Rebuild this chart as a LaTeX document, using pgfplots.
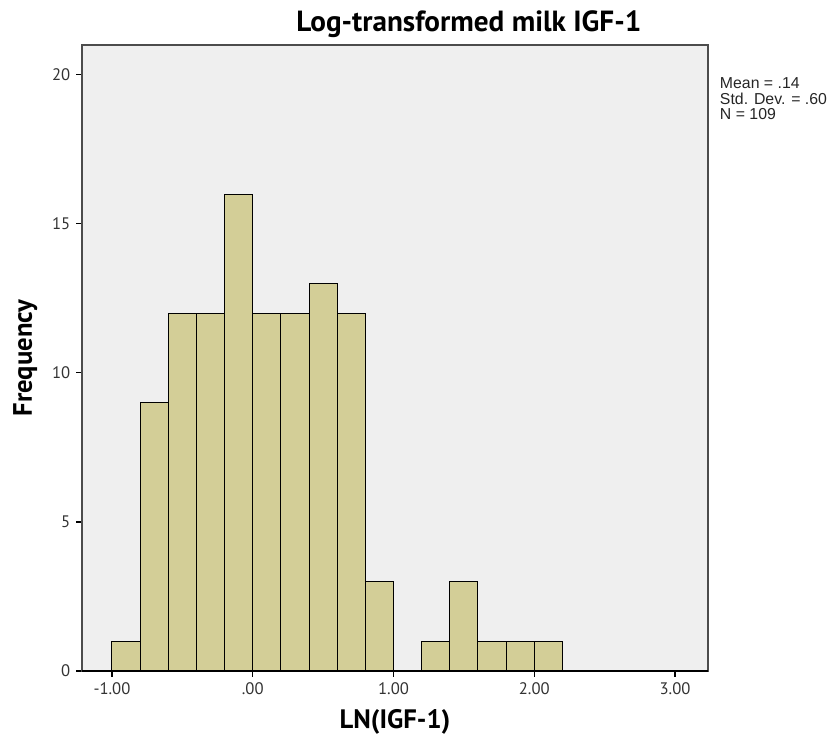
\documentclass[border=0pt]{standalone}
\usepackage{fontspec}
\setmainfont{PT Sans}
\newfontfamily\statfont{Liberation Sans}
\usepackage{pgfplots}
\pgfplotsset{compat=1.18}
\definecolor{barfill}{RGB}{211,206,151}
\definecolor{plotbg}{RGB}{239,239,239}
\begin{document}
\begin{tikzpicture}[x=0.6pt,y=0.6pt]
\path[use as bounding box] (-82,-67) rectangle (756,671);
\begin{axis}[
    at={(0,0)}, anchor=south west,
    scale only axis,
    width=375.6pt, height=375.6pt,
    xmin=-1.213, xmax=3.234,
    ymin=0, ymax=21.0,
    axis background/.style={fill=plotbg},
    axis line style={draw=black!70, line width=0.7pt},
    tick pos=left,
    tick align=outside,
    major tick length=3.5pt,
    tick style={black, line width=0.7pt},
    xtick={-1,0,1,2,3},
    xticklabels={-1.00,.00,1.00,2.00,3.00},
    ytick={0,5,10,15,20},
    ticklabel style={font=\fontsize{10}{12}\selectfont, text=black!80},
    /pgf/number format/assume math mode=true,
    xlabel={LN(IGF-1)},
    ylabel={Frequency},
    xlabel style={font=\fontsize{16}{19}\selectfont\bfseries, yshift=-2pt},
    ylabel style={font=\fontsize{16}{19}\selectfont\bfseries, yshift=2pt},
    clip=false,
]
\addplot[ybar interval, fill=barfill, draw=black, line width=0.6pt]
coordinates {
(-1.0,1) (-0.8,9) (-0.6,12) (-0.4,12) (-0.2,16) (0.0,12) (0.2,12)
(0.4,13) (0.6,12) (0.8,3) (1.0,0) (1.2,1) (1.4,3) (1.6,1) (1.8,1)
(2.0,1) (2.2,0)
};
\draw[black, line width=0.8pt] (rel axis cs:0,0) -- (rel axis cs:1,0);
\node[font=\fontsize{17.5}{20}\selectfont\bfseries, anchor=base]
  at ([yshift=8pt]rel axis cs:0.618,1) {Log-transformed milk IGF-1};
\node[font=\statfont\fontsize{9.5}{9.3}\selectfont, anchor=north west, align=left,
  inner sep=0pt, text=black!85]
  at ([xshift=7pt,yshift=-19.5pt]rel axis cs:1,1) {Mean = .14\\Std. Dev. = .60\\N = 109};
\end{axis}
\end{tikzpicture}
\end{document}
